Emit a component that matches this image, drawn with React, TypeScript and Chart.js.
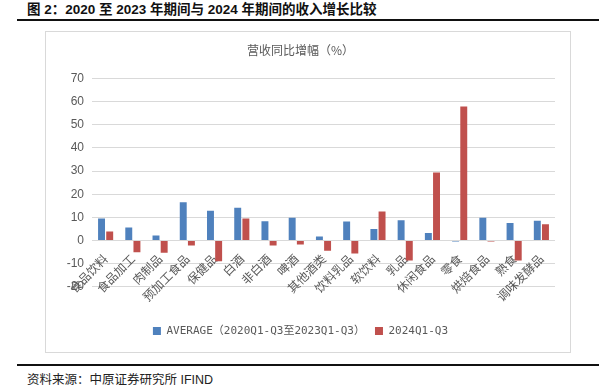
import React, { useEffect, useRef } from "react";
import { Chart, registerables } from "chart.js";

Chart.register(...registerables);

const figureTitle = "图 2：2020 至 2023 年期间与 2024 年期间的收入增长比较";
const chartTitle = "营收同比增幅（%）";
const sourceText = "资料来源：中原证券研究所 IFIND";

const categories = [
  "食品饮料",
  "食品加工",
  "肉制品",
  "预加工食品",
  "保健品",
  "白酒",
  "非白酒",
  "啤酒",
  "其他酒类",
  "饮料乳品",
  "软饮料",
  "乳品",
  "休闲食品",
  "零食",
  "烘焙食品",
  "熟食",
  "调味发酵品",
];

const seriesNames = ["AVERAGE（2020Q1-Q3至2023Q1-Q3）", "2024Q1-Q3"];

const averageGrowth = [9.5, 5.6, 2.2, 16.5, 12.9, 14.1, 8.3, 9.8, 1.7, 8.2, 5.0, 8.8, 3.3, -0.4, 9.8, 7.6, 8.5];
const growth2024 = [3.9, -5.0, -5.3, -2.1, -8.9, 9.5, -2.1, -1.7, -4.4, -5.6, 12.5, -8.6, 29.4, 57.8, -0.4, -8.6, 7.0];

const yMin = -20;
const yMax = 70;
const yStep = 10;

const BLUE = "#4f81bd";
const RED = "#c0504d";
const GREY_TEXT = "#595959";

export default function App() {
  const canvasRef = useRef<HTMLCanvasElement | null>(null);

  useEffect(() => {
    const canvas = canvasRef.current;
    if (!canvas) return;
    const chart = new Chart(canvas, {
      type: "bar",
      data: {
        labels: categories,
        datasets: [
          {
            label: seriesNames[0],
            data: averageGrowth,
            backgroundColor: BLUE,
            borderWidth: 0,
            categoryPercentage: 0.6,
            barPercentage: 0.85,
          },
          {
            label: seriesNames[1],
            data: growth2024,
            backgroundColor: RED,
            borderWidth: 0,
            categoryPercentage: 0.6,
            barPercentage: 0.85,
          },
        ],
      },
      options: {
        animation: false,
        responsive: false,
        maintainAspectRatio: false,
        layout: { padding: { left: 0, right: 21, top: 0, bottom: 5.5 } },
        plugins: {
          title: {
            display: true,
            text: chartTitle,
            color: GREY_TEXT,
            font: { family: '"Noto Sans CJK SC", sans-serif', size: 12, weight: "normal", lineHeight: 1.2 },
            padding: { top: 11.5, bottom: 20.4 },
          },
          legend: {
            position: "bottom",
            align: "center",
            title: {
              display: true,
              text: "",
              font: { size: 10, lineHeight: 1 },
              padding: { top: 18.6, bottom: 0 },
            },
            labels: {
              boxWidth: 8,
              boxHeight: 8,
              padding: 10,
              color: GREY_TEXT,
              font: { family: '"DejaVu Sans Mono", "Noto Sans CJK SC", monospace', size: 11 },
            },
          },
          tooltip: { enabled: false },
        },
        scales: {
          x: {
            type: "category",
            position: { y: 0 } as any,
            grid: { display: false, drawTicks: false },
            border: { display: false },
            ticks: {
              autoSkip: false,
              minRotation: 45,
              maxRotation: 45,
              padding: 11,
              color: GREY_TEXT,
              font: { family: '"Noto Sans CJK SC", sans-serif', size: 12 },
            },
          },
          y: {
            min: yMin,
            max: yMax,
            ticks: {
              stepSize: yStep,
              padding: 8,
              color: GREY_TEXT,
              font: { family: '"Liberation Sans", Arial, sans-serif', size: 12 },
            },
            grid: { color: "#d9d9d9", lineWidth: 1, drawTicks: false },
            border: { display: false },
            afterFit: (scale: any) => {
              scale.width = 46;
            },
          },
        },
      },
    });
    return () => chart.destroy();
  }, []);

  return (
    <div style={{ position: "absolute", left: 0, top: 0, width: 609, height: 392, background: "#fff", overflow: "hidden" }}>
      <div
        style={{
          position: "absolute",
          left: 27,
          top: 1,
          lineHeight: "18px",
          fontSize: 13.5,
          fontWeight: "bold",
          fontFamily: '"Liberation Sans", Arial, "Noto Sans CJK SC", sans-serif',
          color: "#111",
          whiteSpace: "nowrap",
        }}
      >
        {figureTitle}
      </div>
      <div style={{ position: "absolute", left: 17, top: 19, width: 582, height: 2, background: "#111" }} />
      <div
        style={{
          position: "absolute",
          left: 45,
          top: 31,
          width: 524,
          height: 320,
          border: "1px solid #d9d9d9",
        }}
      />
      <canvas
        ref={canvasRef}
        width={530}
        height={320}
        style={{ position: "absolute", left: 46, top: 32, width: 530, height: 320, display: "block" }}
      />
      <div style={{ position: "absolute", left: 17, top: 364, width: 582, height: 2, background: "#111" }} />
      <div
        style={{
          position: "absolute",
          left: 27,
          top: 372,
          lineHeight: "16px",
          fontSize: 12.5,
          fontFamily: '"Liberation Sans", Arial, "Noto Sans CJK SC", sans-serif',
          color: "#222",
          whiteSpace: "nowrap",
        }}
      >
        {sourceText}
      </div>
    </div>
  );
}
